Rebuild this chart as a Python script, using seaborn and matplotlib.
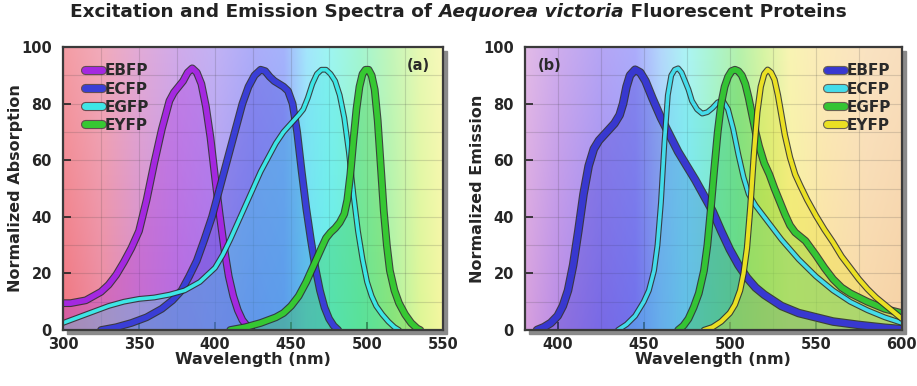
import numpy as np
import pandas as pd
import seaborn as sns
import matplotlib.pyplot as plt
import matplotlib.patheffects as pe
from matplotlib.lines import Line2D
from matplotlib.patches import Rectangle

# ---- data (wavelength in nm, normalized value) ----
proteins = ["EBFP", "ECFP", "EGFP", "EYFP"]

abs_ebfp_nm = [300, 305, 310, 315, 320, 325, 330, 335, 340, 345, 350, 355, 360, 365, 370, 373, 376, 379, 382, 385,
               388, 391, 394, 397, 400, 403, 406, 409, 412, 415, 418, 421, 424]
abs_ebfp = [9.5, 9.5, 10, 10.5, 12, 13.5, 16, 19.5, 24, 29, 35, 46, 59, 71, 81, 84, 86, 88, 91, 92.5,
            91, 87, 79, 68, 54, 41, 29, 19, 12, 7, 3.5, 1.5, 0]

abs_ecfp_nm = [325, 335, 345, 355, 365, 372, 378, 383, 388, 393, 398, 403, 408, 413, 418, 422, 426, 430, 433, 436,
               439, 442, 445, 448, 451, 454, 457, 460, 463, 466, 469, 472, 475, 478, 481]
abs_ecfp = [0, 1, 2.5, 4.5, 7.5, 10.5, 14, 19, 24.5, 32, 40, 50, 60, 70, 80, 86, 90, 92, 91.5, 89.5,
            88, 87, 86, 84.5, 80, 70, 56, 43, 32, 22, 14, 8, 4, 1.5, 0]

abs_egfp_nm = [300, 310, 320, 330, 340, 350, 360, 370, 380, 390, 395, 400, 405, 410, 415, 420, 425, 430, 435, 440,
               445, 450, 455, 458, 461, 464, 467, 470, 473, 476, 479, 482, 485, 488, 491, 494, 497, 500, 503, 506,
               510, 514, 518, 521]
abs_egfp = [2.5, 4.5, 6.5, 8.5, 10, 11, 11.5, 12.5, 14, 17, 19.5, 22, 26.5, 32, 38, 44, 50, 56, 61, 66,
            70, 73, 76, 78, 82, 87, 90.5, 92, 92, 90.5, 88, 83, 75, 63, 48, 35, 25, 17, 12, 8.5,
            5.5, 3, 1, 0]

abs_eyfp_nm = [410, 420, 430, 440, 445, 450, 455, 460, 465, 470, 473, 476, 479, 482, 485, 487, 489, 491, 493, 495,
               497, 499, 501, 503, 505, 507, 509, 511, 513, 515, 518, 521, 525, 529, 533, 535]
abs_eyfp = [0, 1, 2.5, 4.5, 6, 8.5, 12, 17, 23, 29, 32.5, 34.5, 36, 38, 41, 46, 55, 67, 78, 86,
            90.5, 92, 92, 90, 85, 74, 58, 42, 30, 21, 14, 9.5, 5.5, 2.5, 0.5, 0]

em_ebfp_nm = [388, 392, 396, 400, 403, 406, 409, 412, 415, 418, 421, 424, 427, 430, 433, 436, 438, 440, 442, 445,
              448, 451, 455, 460, 465, 470, 475, 480, 485, 490, 495, 500, 505, 510, 515, 520, 525, 530, 540, 550,
              560, 575, 590, 600]
em_ebfp = [0, 1, 2.5, 5, 8.5, 14, 23, 35, 48, 58, 64, 67, 69, 71, 73, 76, 80, 86, 90, 92,
           91, 88, 82, 75, 69, 63, 58, 53, 47.5, 42, 35, 28.5, 23, 18.5, 15, 12.5, 10.5, 8.5, 6, 4.5,
           3, 1.8, 0.8, 0.3]

em_ecfp_nm = [435, 440, 445, 450, 453, 456, 458, 460, 462, 464, 466, 468, 470, 472, 474, 476, 478, 481, 484, 487,
              490, 493, 496, 499, 502, 505, 508, 511, 515, 520, 525, 530, 535, 540, 545, 550, 560, 570, 580, 590,
              600]
em_ecfp = [0, 2, 5, 10, 14, 21, 30, 45, 66, 83, 90, 92, 92.5, 91, 88, 85, 81, 78, 76.5, 77,
           78.5, 80.5, 81, 78, 71, 62, 54, 48, 44, 40, 36, 32, 28.5, 25, 22, 19, 14, 10, 7, 4.5,
           2.5]

em_egfp_nm = [470, 473, 476, 479, 482, 485, 487, 489, 491, 493, 495, 497, 499, 501, 503, 505, 507, 509, 511, 513,
              515, 517, 520, 523, 526, 529, 532, 535, 538, 541, 544, 547, 550, 555, 560, 565, 570, 580, 590, 600]
em_egfp = [0, 1.5, 4, 8, 13, 21, 30, 43, 57, 70, 80, 86, 89.5, 91.5, 92, 91.5, 90, 87, 82, 76,
           70, 65, 59, 55, 50, 45.5, 41, 37, 34.5, 33, 31.5, 29, 26.5, 22, 18, 15, 13, 10, 7.5, 6]

em_eyfp_nm = [485, 490, 495, 500, 503, 506, 508, 510, 512, 514, 516, 518, 520, 522, 524, 526, 528, 530, 532, 535,
              538, 541, 545, 550, 555, 560, 565, 570, 575, 580, 585, 590, 595, 600]
em_eyfp = [0, 1, 3, 6, 9, 14, 20, 29, 44, 62, 77, 86, 90.5, 92, 91, 88.5, 83, 76, 69, 61,
           55, 51, 46, 40.5, 35.5, 31, 26, 22, 18, 14.5, 11.5, 9, 6.5, 4]

abs_ticks = [300, 350, 400, 450, 500, 550]
em_ticks = [400, 450, 500, 550, 600]
y_ticks = [0, 20, 40, 60, 80, 100]

# ---- styling ----
sns.set_theme(style="ticks")
plt.rcParams["font.family"] = ["DejaVu Sans"]
plt.rcParams["font.weight"] = "bold"

abs_colors = {"EBFP": "#a428e0", "ECFP": "#3a3ed6", "EGFP": "#3ee6e6", "EYFP": "#36c832"}
em_colors = {"EBFP": "#3838d0", "ECFP": "#44dcea", "EGFP": "#34c434", "EYFP": "#eae024"}
abs_widths = {"EBFP": 4.0, "ECFP": 4.0, "EGFP": 2.6, "EYFP": 4.0}
em_widths = {"EBFP": 4.6, "ECFP": 2.6, "EGFP": 4.0, "EYFP": 3.0}

abs_bg = [(300, (240, 118, 128)), (325, (236, 138, 160)), (350, (214, 138, 200)), (375, (190, 138, 226)),
          (400, (170, 148, 240)), (425, (140, 140, 246)), (445, (130, 150, 250)), (460, (128, 220, 250)),
          (475, (120, 242, 236)), (495, (128, 242, 192)), (515, (170, 242, 160)), (535, (222, 246, 150)),
          (550, (246, 246, 160))]
em_bg = [(381, (215, 160, 222)), (400, (186, 140, 230)), (425, (152, 130, 240)), (445, (140, 140, 250)),
         (460, (150, 200, 250)), (475, (140, 240, 240)), (490, (140, 240, 190)), (505, (152, 236, 140)),
         (520, (200, 240, 130)), (535, (246, 240, 150)), (555, (250, 226, 160)), (580, (248, 216, 170)),
         (600, (246, 210, 165))]


def background(ax, stops, x0, x1):
    xs = np.linspace(x0, x1, 400)
    sx = [s[0] for s in stops]
    rgb = np.array([[np.interp(x, sx, [s[1][k] for s in stops]) for k in range(3)] for x in xs]) / 255.0
    fy = np.linspace(0, 1, 120)[:, None, None]  # 0 bottom .. 1 top
    w = 0.28 * fy
    img = rgb[None, :, :] * (1 - w) + w
    ax.imshow(img, extent=(x0, x1, 0, 100), origin="lower", aspect="auto", zorder=0)


def panel(ax, series, colors, widths, stops, xlim, xticks, ylabel):
    background(ax, stops, xlim[0], xlim[1])
    df = pd.concat([pd.DataFrame({"nm": nm, "val": v, "protein": p}) for p, (nm, v) in series.items()])
    for p, (nm, v) in series.items():
        ax.fill_between(nm, v, 0, color=colors[p], alpha=0.32, lw=0, zorder=1)
    sns.lineplot(data=df, x="nm", y="val", hue="protein", palette=colors, hue_order=proteins,
                 estimator=None, sort=False, legend=False, ax=ax, zorder=2)
    for line, p in zip(ax.lines, proteins):
        line.set_linewidth(widths[p])
        line.set_solid_capstyle("round")
        line.set_solid_joinstyle("round")
        line.set_path_effects([pe.Stroke(linewidth=widths[p] + 1.6, foreground="#2a2a2a", alpha=0.85), pe.Normal()])
    ax.set_xticks(xticks)
    ax.set_yticks(y_ticks)
    ax.set_xticks(np.arange(xticks[0], xlim[1] + 1, 25), minor=True)
    ax.set_yticks(np.arange(0, 101, 10), minor=True)
    ax.set_xlim(*xlim)
    ax.set_ylim(0, 100)
    ax.grid(which="both", color="#404040", alpha=0.18, lw=0.8)
    ax.set_axisbelow(True)
    ax.tick_params(which="major", direction="in", length=6, width=1.2, color="#222222",
                   labelsize=10.5)
    ax.tick_params(axis="x", pad=5)
    ax.tick_params(axis="y", pad=8)
    ax.tick_params(which="minor", length=0)
    for lab in ax.get_xticklabels() + ax.get_yticklabels():
        lab.set_fontweight("bold")
    for s in ax.spines.values():
        s.set_color("#3a3a3a")
        s.set_linewidth(1.6)
    ax.set_xlabel("Wavelength (nm)", fontsize=11.5, fontweight="bold", labelpad=0)
    ax.set_ylabel(ylabel, fontsize=11.5, fontweight="bold", labelpad=-1)
    handles = [Line2D([], [], color=colors[p], lw=5, solid_capstyle="round",
                      path_effects=[pe.Stroke(linewidth=6.6, foreground="#2a2a2a", alpha=0.7), pe.Normal()])
               for p in proteins]
    return handles


fig = plt.figure(figsize=(9.17, 3.86), dpi=100)
ax1 = fig.add_axes([0.0687, 0.145, 0.4145, 0.733])
ax2 = fig.add_axes([0.5725, 0.145, 0.411, 0.733])

for ax in (ax1, ax2):
    bb = ax.get_position()
    fig.patches.append(Rectangle((bb.x0 + 0.004, bb.y0 - 0.009), bb.width, bb.height,
                                 transform=fig.transFigure, color="#8a8a8a", zorder=-1))

abs_series = {"EBFP": (abs_ebfp_nm, abs_ebfp), "ECFP": (abs_ecfp_nm, abs_ecfp),
              "EGFP": (abs_egfp_nm, abs_egfp), "EYFP": (abs_eyfp_nm, abs_eyfp)}
em_series = {"EBFP": (em_ebfp_nm, em_ebfp), "ECFP": (em_ecfp_nm, em_ecfp),
             "EGFP": (em_egfp_nm, em_egfp), "EYFP": (em_eyfp_nm, em_eyfp)}

h1 = panel(ax1, abs_series, abs_colors, abs_widths, abs_bg, (300, 550), abs_ticks, "Normalized Absorption")
h2 = panel(ax2, em_series, em_colors, em_widths, em_bg, (381, 600), em_ticks, "Normalized Emission")

leg_kw = dict(frameon=False, handlelength=1.1, handletextpad=0.2, labelspacing=0.2,
              prop={"weight": "bold", "size": 11}, borderaxespad=0.3)
l1 = ax1.legend(h1, proteins, loc="upper left", bbox_to_anchor=(0.03, 0.98), **leg_kw)
l2 = ax2.legend(h2, proteins, loc="upper right", bbox_to_anchor=(1.0, 0.98), **leg_kw)
for leg in (l1, l2):
    for t in leg.get_texts():
        t.set_color("#2a2a2a")

ax1.text(0.965, 0.935, "(a)", transform=ax1.transAxes, ha="right", va="center",
         fontsize=10.5, fontweight="bold", color="#2a2a2a")
ax2.text(0.035, 0.935, "(b)", transform=ax2.transAxes, ha="left", va="center",
         fontsize=10.5, fontweight="bold", color="#2a2a2a")

# title with italic species name, assembled from three pieces and centred
parts = [("Excitation and Emission Spectra of ", "normal"), ("Aequorea victoria", "italic"),
         (" Fluorescent Proteins", "normal")]
texts = [fig.text(0, 0.968, s, fontsize=13.3, fontweight="bold", style=st, va="center", ha="left",
                  color="#222222") for s, st in parts]
fig.canvas.draw()
r = fig.canvas.get_renderer()
widths_px = [t.get_window_extent(r).width for t in texts]
x = (fig.bbox.width * 0.5 - sum(widths_px) / 2) / fig.bbox.width
for t, w in zip(texts, widths_px):
    t.set_x(x)
    x += w / fig.bbox.width

fig.savefig("out.png", dpi=100)
